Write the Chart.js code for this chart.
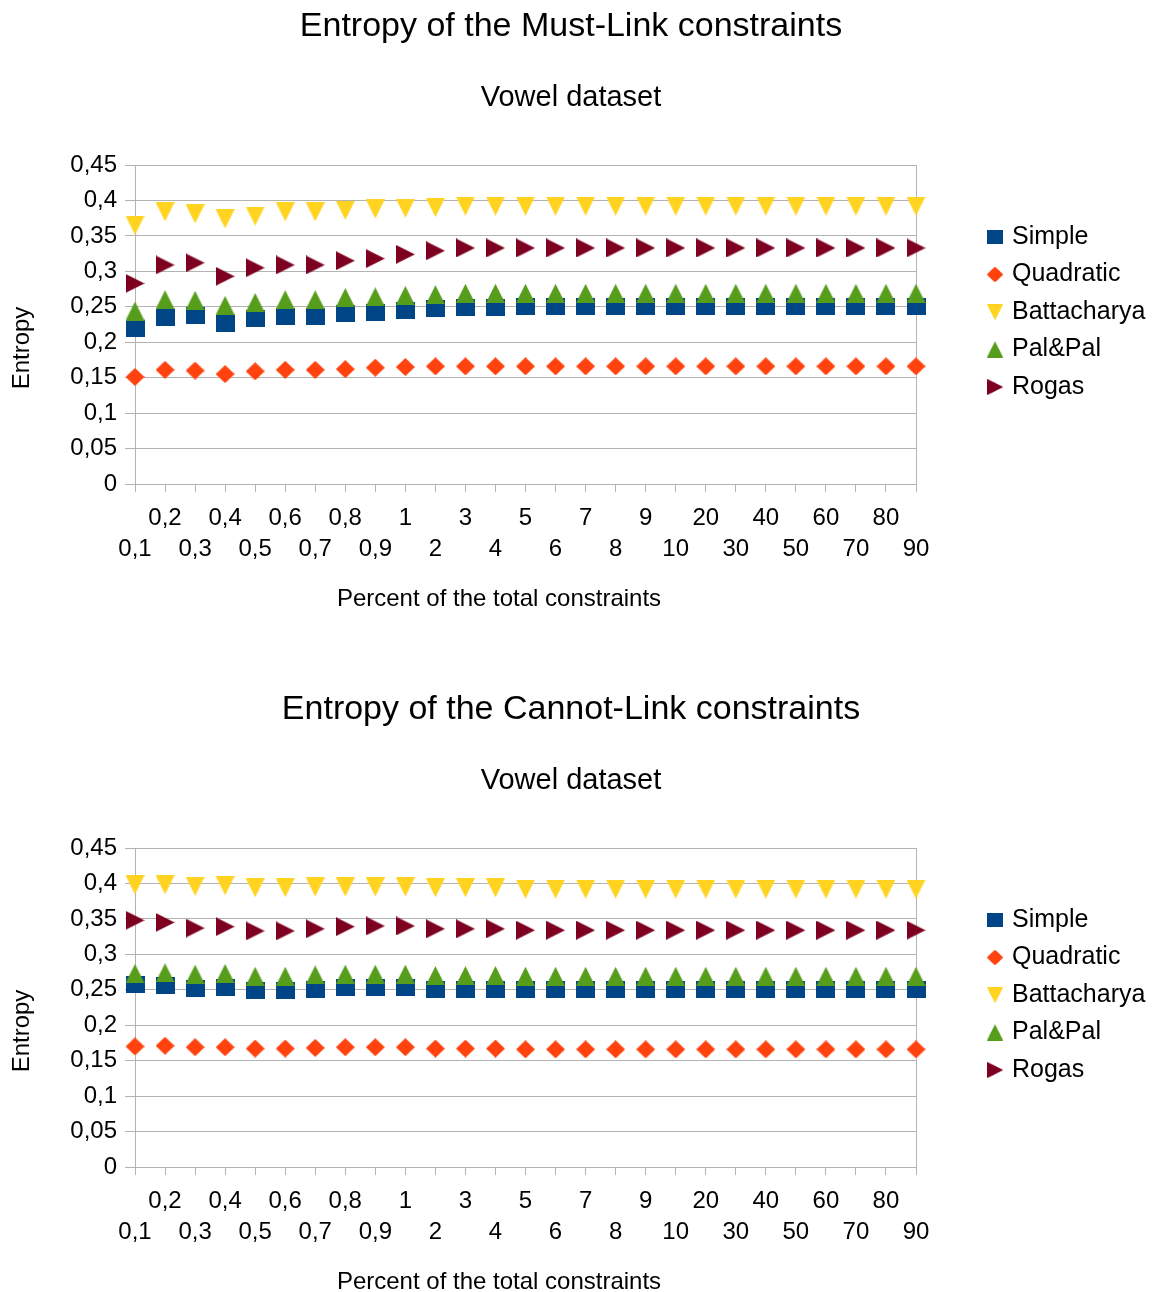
<!DOCTYPE html>
<html>
<head>
<meta charset="utf-8">
<title>Entropy of the constraints</title>
<script src="https://cdn.jsdelivr.net/npm/chart.js@4.4.0/dist/chart.umd.min.js"></script>
<style>
    body { margin: 0; background: #fff; }
    canvas { display: block; }
</style>
</head>
<body>
<canvas id="mustLinkChart" width="1165" height="683"></canvas>
<canvas id="cannotLinkChart" width="1165" height="609"></canvas>
<script>
// Percent of the total constraints (x categories)
const percentages = [0.1, 0.2, 0.3, 0.4, 0.5, 0.6, 0.7, 0.8, 0.9,
                     1, 2, 3, 4, 5, 6, 7, 8, 9,
                     10, 20, 30, 40, 50, 60, 70, 80, 90];
const xLabels = percentages.map(p => String(p).replace('.', ','));

const seriesNames = ['Simple', 'Quadratic', 'Battacharya', 'Pal&Pal', 'Rogas'];
const seriesColors = ['#004586', '#ff420e', '#ffd320', '#579d1c', '#7e0021'];

// Must-Link entropy
const mlSimple = [0.219, 0.235, 0.237, 0.226, 0.234, 0.236, 0.236, 0.240, 0.242, 0.245, 0.247, 0.249, 0.249,
                  0.250, 0.250, 0.250, 0.250, 0.250, 0.250, 0.250, 0.250, 0.250, 0.250, 0.250, 0.250, 0.250, 0.250];
const mlQuadratic = [0.151, 0.161, 0.160, 0.155, 0.159, 0.161, 0.161, 0.162, 0.164, 0.165, 0.166, 0.166, 0.166,
                     0.166, 0.166, 0.166, 0.166, 0.166, 0.166, 0.166, 0.166, 0.166, 0.166, 0.166, 0.166, 0.166, 0.166];
const mlBattacharya = [0.365, 0.384, 0.381, 0.374, 0.378, 0.384, 0.384, 0.386, 0.388, 0.389, 0.390, 0.392, 0.392,
                       0.392, 0.392, 0.392, 0.392, 0.392, 0.392, 0.392, 0.392, 0.392, 0.392, 0.392, 0.392, 0.392, 0.392];
const mlPalPal = [0.244, 0.260, 0.259, 0.252, 0.256, 0.260, 0.260, 0.263, 0.264, 0.266, 0.267, 0.269, 0.269,
                  0.269, 0.269, 0.269, 0.269, 0.269, 0.269, 0.269, 0.269, 0.269, 0.269, 0.269, 0.269, 0.269, 0.269];
const mlRogas = [0.283, 0.309, 0.312, 0.293, 0.305, 0.309, 0.309, 0.315, 0.318, 0.324, 0.329, 0.333, 0.333,
                 0.333, 0.333, 0.333, 0.333, 0.333, 0.333, 0.333, 0.333, 0.333, 0.333, 0.333, 0.333, 0.333, 0.333];

// Cannot-Link entropy
const clSimple = [0.257, 0.256, 0.252, 0.253, 0.249, 0.249, 0.251, 0.253, 0.253, 0.253, 0.251, 0.251, 0.251,
                  0.250, 0.250, 0.250, 0.250, 0.250, 0.250, 0.250, 0.250, 0.250, 0.250, 0.250, 0.250, 0.250, 0.250];
const clQuadratic = [0.170, 0.171, 0.169, 0.169, 0.167, 0.167, 0.168, 0.169, 0.169, 0.169, 0.167, 0.167, 0.167,
                     0.166, 0.166, 0.166, 0.166, 0.166, 0.166, 0.166, 0.166, 0.166, 0.166, 0.166, 0.166, 0.166, 0.166];
const clBattacharya = [0.398, 0.398, 0.396, 0.397, 0.394, 0.394, 0.395, 0.395, 0.395, 0.395, 0.394, 0.394, 0.394,
                       0.392, 0.392, 0.392, 0.392, 0.392, 0.392, 0.392, 0.392, 0.392, 0.392, 0.392, 0.392, 0.392, 0.392];
const clPalPal = [0.273, 0.274, 0.272, 0.273, 0.269, 0.269, 0.271, 0.272, 0.272, 0.272, 0.270, 0.270, 0.270,
                  0.269, 0.269, 0.269, 0.269, 0.269, 0.269, 0.269, 0.269, 0.269, 0.269, 0.269, 0.269, 0.269, 0.269];
const clRogas = [0.348, 0.345, 0.337, 0.339, 0.333, 0.333, 0.336, 0.339, 0.340, 0.340, 0.336, 0.336, 0.336,
                 0.334, 0.334, 0.334, 0.334, 0.334, 0.334, 0.334, 0.334, 0.334, 0.334, 0.334, 0.334, 0.334, 0.334];

const FONT = '"Liberation Sans", Arial, sans-serif';
const GRID = '#b3b3b3';

// Symbol bitmaps, used as point styles and in the legend
function makeMarker(shape, color, w, h) {
    const c = document.createElement('canvas');
    c.width = w;
    c.height = h;
    const g = c.getContext('2d');
    g.fillStyle = color;
    g.beginPath();
    if (shape === 'square') {
        g.rect(0, 0, w, h);
    } else if (shape === 'diamond') {
        g.moveTo(w / 2, 0); g.lineTo(w, h / 2); g.lineTo(w / 2, h); g.lineTo(0, h / 2);
    } else if (shape === 'down') {
        g.moveTo(0, 0); g.lineTo(w, 0); g.lineTo(w / 2, h);
    } else if (shape === 'up') {
        g.moveTo(w / 2, 0); g.lineTo(w, h); g.lineTo(0, h);
    } else {
        g.moveTo(0, 0); g.lineTo(w, h / 2); g.lineTo(0, h);
    }
    g.closePath();
    g.fill();
    return c;
}

const markers = [
    makeMarker('square', seriesColors[0], 19, 17),
    makeMarker('diamond', seriesColors[1], 19, 18),
    makeMarker('down', seriesColors[2], 19, 19),
    makeMarker('up', seriesColors[3], 19, 19),
    makeMarker('right', seriesColors[4], 19, 19)
];

// Titles, axis titles and the legend on the right
const chartText = {
    id: 'chartText',
    afterDraw(chart, args, opts) {
        const ctx = chart.ctx;
        const area = chart.chartArea;
        ctx.save();
        ctx.fillStyle = '#000';
        ctx.textAlign = 'center';
        ctx.textBaseline = 'middle';

        ctx.font = '34px ' + FONT;
        ctx.fillText(opts.title, 571, 27);
        ctx.font = '29px ' + FONT;
        ctx.fillText(opts.subtitle, 571, 98);

        ctx.font = '24px ' + FONT;
        ctx.fillText('Percent of the total constraints', 499, 599);

        ctx.save();
        ctx.translate(22, 348);
        ctx.rotate(-Math.PI / 2);
        ctx.fillText('Entropy', 0, 0);
        ctx.restore();

        // legend
        ctx.textAlign = 'left';
        ctx.font = '25px ' + FONT;
        const k = 0.88;
        seriesNames.forEach((name, i) => {
            const y = area.top + 72 + i * 37.5;
            const m = markers[i];
            ctx.drawImage(m, 995 - m.width * k / 2, y - m.height * k / 2, m.width * k, m.height * k);
            ctx.fillText(name, 1012, y);
        });
        ctx.restore();
    }
};

function buildChart(canvasId, title, series) {
    const canvas = document.getElementById(canvasId);
    const height = canvas.height;
    const ctx = canvas.getContext('2d');

    return new Chart(ctx, {
        type: 'line',
        data: {
            labels: xLabels,
            datasets: series.map((data, i) => ({
                label: seriesNames[i],
                data: data,
                showLine: false,
                pointStyle: markers[i],
                pointRadius: 10,
                pointHoverRadius: 10,
                backgroundColor: seriesColors[i],
                borderColor: seriesColors[i],
                order: series.length - i
            }))
        },
        options: {
            responsive: false,
            animation: false,
            events: [],
            layout: {
                padding: { top: 165, right: 249, left: 0, bottom: 0 }
            },
            plugins: {
                legend: { display: false },
                tooltip: { enabled: false },
                chartText: { title: title, subtitle: 'Vowel dataset' }
            },
            scales: {
                x: {
                    type: 'category',
                    offset: false,
                    border: { color: GRID, width: 1 },
                    grid: {
                        color: (c) => c.index === percentages.length - 1 ? GRID : 'rgba(0,0,0,0)',
                        tickColor: GRID,
                        tickLength: 8,
                        lineWidth: 1
                    },
                    ticks: {
                        autoSkip: false,
                        maxRotation: 0,
                        minRotation: 0,
                        color: '#000',
                        padding: 11,
                        font: { family: FONT, size: 24, lineHeight: 1.3 },
                        callback: (value, index) => index % 2 === 0 ? ['', xLabels[index]] : [xLabels[index], '']
                    },
                    afterFit(scale) {
                        scale.height = height - 484;
                    }
                },
                y: {
                    min: 0,
                    max: 0.45,
                    border: { color: GRID, width: 1 },
                    grid: {
                        color: GRID,
                        tickColor: GRID,
                        tickLength: 10,
                        lineWidth: 1
                    },
                    ticks: {
                        stepSize: 0.05,
                        color: '#000',
                        padding: 8,
                        font: { family: FONT, size: 24 },
                        callback: (value) => String(Math.round(value * 100) / 100).replace('.', ',')
                    },
                    afterFit(scale) {
                        scale.width = 135;
                    }
                }
            }
        },
        plugins: [chartText]
    });
}

buildChart('mustLinkChart', 'Entropy of the Must-Link constraints',
    [mlSimple, mlQuadratic, mlBattacharya, mlPalPal, mlRogas]);
buildChart('cannotLinkChart', 'Entropy of the Cannot-Link constraints',
    [clSimple, clQuadratic, clBattacharya, clPalPal, clRogas]);
</script>
</body>
</html>
